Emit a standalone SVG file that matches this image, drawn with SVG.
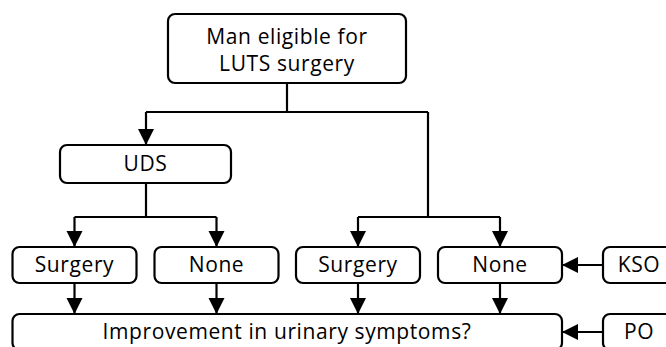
<svg xmlns="http://www.w3.org/2000/svg" width="666" height="347" viewBox="0 0 666 347">
  <style>
    .box { fill: #ffffff; stroke: #000000; stroke-width: 2.2; }
    .lbl { font-family: "Open Sans", "Noto Sans", "DejaVu Sans", sans-serif; font-size: 21px; letter-spacing: 0.6px; fill: #000000; text-anchor: middle; }
    .ln { fill: none; stroke: #000000; stroke-width: 2.2; }
    .arr { fill: none; stroke: #000000; stroke-width: 2.2; marker-end: url(#ah); }
  </style>
  <defs>
    <marker id="ah" markerUnits="userSpaceOnUse" markerWidth="18" markerHeight="18" viewBox="0 0 18 18" refX="16" refY="9" orient="auto">
      <path d="M0,1 L16,9 L0,17 Z" fill="#000000"/>
    </marker>
  </defs>
  <rect width="666" height="347" fill="#ffffff"/>

  <g id="connectors">
    <polyline class="ln" points="287,83 287,112"/>
    <polyline class="ln" points="146,112 428,112"/>
    <polyline class="arr" points="146,112 146,145"/>
    <polyline class="ln" points="428,112 428,217"/>
    <polyline class="ln" points="146,183 146,217"/>
    <polyline class="ln" points="74.5,217 216.5,217"/>
    <polyline class="arr" points="74.5,217 74.5,247"/>
    <polyline class="arr" points="216.5,217 216.5,247"/>
    <polyline class="ln" points="358,217 500,217"/>
    <polyline class="arr" points="358,217 358,247"/>
    <polyline class="arr" points="500,217 500,247"/>
    <polyline class="arr" points="74.5,283 74.5,314"/>
    <polyline class="arr" points="216.5,283 216.5,314"/>
    <polyline class="arr" points="358,283 358,314"/>
    <polyline class="arr" points="500,283 500,314"/>
    <polyline class="arr" points="603,265 562,265"/>
    <polyline class="arr" points="603,332 562,332"/>
  </g>

  <g id="start">
    <rect class="box" x="168" y="14" width="238" height="69" rx="7"/>
    <text class="lbl" x="287" y="44">Man eligible for</text>
    <text class="lbl" x="287" y="71">LUTS surgery</text>
  </g>

  <g id="uds">
    <rect class="box" x="60" y="145" width="171" height="38" rx="7"/>
    <text class="lbl" x="145.5" y="171">UDS</text>
  </g>

  <g id="surgery1">
    <rect class="box" x="12.5" y="247" width="124" height="36" rx="7"/>
    <text class="lbl" x="74.5" y="272">Surgery</text>
  </g>
  <g id="none1">
    <rect class="box" x="154.5" y="247" width="124" height="36" rx="7"/>
    <text class="lbl" x="216.5" y="272">None</text>
  </g>
  <g id="surgery2">
    <rect class="box" x="296" y="247" width="124" height="36" rx="7"/>
    <text class="lbl" x="358" y="272">Surgery</text>
  </g>
  <g id="none2">
    <rect class="box" x="438" y="247" width="124" height="36" rx="7"/>
    <text class="lbl" x="500" y="272">None</text>
  </g>

  <g id="kso">
    <rect class="box" x="603" y="247" width="72" height="36" rx="7"/>
    <text class="lbl" x="639" y="272">KSO</text>
  </g>

  <g id="improvement">
    <rect class="box" x="12.5" y="314" width="549.5" height="36" rx="7"/>
    <text class="lbl" x="287" y="339">Improvement in urinary symptoms?</text>
  </g>

  <g id="po">
    <rect class="box" x="603" y="314" width="72" height="36" rx="7"/>
    <text class="lbl" x="639" y="339">PO</text>
  </g>
</svg>
